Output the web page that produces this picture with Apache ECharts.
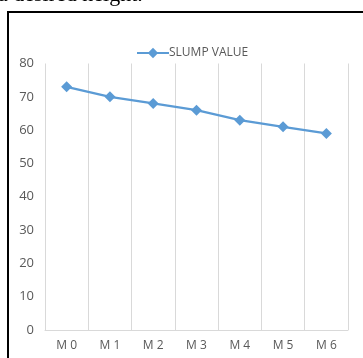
<!DOCTYPE html>
<html>
<head>
<meta charset="utf-8">
<script src="https://cdn.jsdelivr.net/npm/echarts@6/dist/echarts.min.js"></script>
<style>
html,body{margin:0;padding:0;background:#fff;overflow:hidden;}
#chart{position:absolute;left:0;top:0;width:363px;height:358px;}
#frame{position:absolute;left:7px;top:11px;width:400px;height:400px;border-left:2px solid #000;border-top:2px solid #000;pointer-events:none;}
#cap{position:absolute;left:-2px;top:-17px;font-family:"Liberation Serif","Times New Roman",serif;font-size:22px;line-height:22px;color:#000;white-space:nowrap;}
</style>
</head>
<body>
<div id="chart"></div>
<div id="frame"></div>
<div id="cap">a desired height.</div>
<script>
var categories = ['M0','M1','M2','M3','M4','M5','M6'];
var slumpValues = [73,70,68,66,63,61,59];
var seriesName = 'SLUMP VALUE';

var chart = echarts.init(document.getElementById('chart'));
chart.setOption({
  animation:false,
  backgroundColor:'#fff',
  legend:{
    data:[seriesName],
    left:131, top:42,
    itemWidth:32, itemHeight:13, itemGap:4,
    itemStyle:{},
    textStyle:{color:'#595959', fontSize:12, fontFamily:'Open Sans', padding:[0,0,0,-5]}
  },
  grid:{left:45, right:15, top:63.5, bottom:28, containLabel:false},
  xAxis:{
    type:'category',
    data:categories,
    boundaryGap:true,
    axisLine:{show:true, lineStyle:{color:'#D9D9D9', width:1}},
    axisTick:{show:false},
    splitLine:{show:true, lineStyle:{color:'#D9D9D9', width:1}},
    axisLabel:{color:'#595959', fontSize:12, fontFamily:'Open Sans', margin:10,
      formatter:function(v){return v.replace(/(\d+)/,' $1');}}
  },
  yAxis:{
    type:'value',
    min:0, max:80, interval:10,
    axisLine:{show:false},
    axisTick:{show:false},
    splitLine:{show:false},
    axisLabel:{color:'#595959', fontSize:13, fontFamily:'Open Sans', margin:11}
  },
  series:[{
    name:seriesName,
    type:'line',
    data:slumpValues,
    symbol:'diamond',
    symbolSize:11,
    lineStyle:{color:'#5B9BD5', width:2.25},
    itemStyle:{color:'#5B9BD5'}
  }]
});
</script>
</body>
</html>
